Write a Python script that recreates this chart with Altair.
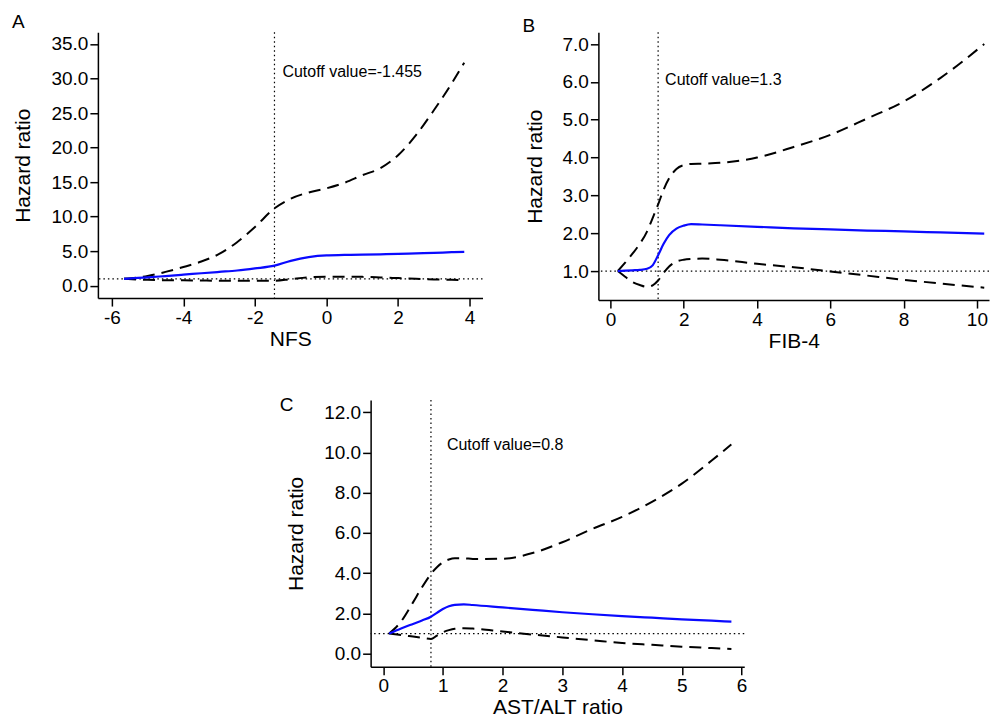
import altair as alt
import pandas as pd

FONT = "Liberation Sans"

# ---- Panel A : NFS ----
nfs_x = [-5.66, -5.0, -4.5, -4.0, -3.5, -3.0, -2.5, -2.0, -1.455, -1.0, -0.5, 0.0, 0.5, 1.0, 1.5, 2.0, 2.5, 3.0, 3.5, 3.85]
nfs_hr = [1.0, 1.2, 1.4, 1.6, 1.8, 2.0, 2.2, 2.5, 2.9, 3.6, 4.15, 4.4, 4.45, 4.5, 4.55, 4.6, 4.68, 4.75, 4.85, 4.9]
nfs_hi = [1.0, 1.4, 2.0, 2.7, 3.5, 4.6, 6.3, 8.5, 11.2, 12.6, 13.5, 14.1, 14.9, 16.0, 17.0, 18.9, 21.8, 25.4, 29.3, 32.3]
nfs_lo = [1.0, 0.85, 0.8, 0.78, 0.75, 0.72, 0.7, 0.7, 0.72, 0.95, 1.2, 1.3, 1.3, 1.28, 1.2, 1.1, 1.0, 0.9, 0.85, 0.8]

# ---- Panel B : FIB-4 ----
fib_x = [0.2, 0.4, 0.6, 0.8, 1.0, 1.15, 1.3, 1.45, 1.6, 1.8, 2.0, 2.2, 2.5, 3.0, 4.0, 5.0, 6.0, 7.0, 8.0, 9.0, 10.2]
fib_hr = [1.0, 1.01, 1.02, 1.03, 1.06, 1.15, 1.42, 1.72, 1.95, 2.12, 2.2, 2.24, 2.23, 2.21, 2.17, 2.13, 2.1, 2.07, 2.05, 2.02, 1.99]
fib_hi = [1.0, 1.22, 1.46, 1.72, 2.05, 2.4, 2.76, 3.15, 3.45, 3.7, 3.8, 3.83, 3.84, 3.86, 4.0, 4.28, 4.6, 5.03, 5.48, 6.1, 7.0]
fib_lo = [1.0, 0.85, 0.71, 0.63, 0.58, 0.62, 0.75, 0.95, 1.12, 1.25, 1.3, 1.32, 1.33, 1.3, 1.19, 1.1, 0.99, 0.88, 0.77, 0.67, 0.56]

# ---- Panel C : AST/ALT ratio ----
aar_x = [0.1, 0.3, 0.5, 0.65, 0.8, 0.9, 1.0, 1.1, 1.2, 1.35, 1.5, 2.0, 2.5, 3.0, 3.5, 4.0, 4.5, 5.0, 5.5, 5.83]
aar_hr = [1.0, 1.25, 1.48, 1.65, 1.84, 2.03, 2.22, 2.36, 2.43, 2.45, 2.42, 2.3, 2.18, 2.06, 1.96, 1.87, 1.79, 1.71, 1.64, 1.59]
aar_hi = [1.0, 1.6, 2.55, 3.3, 3.96, 4.3, 4.54, 4.68, 4.74, 4.74, 4.71, 4.72, 5.0, 5.54, 6.2, 6.8, 7.55, 8.45, 9.6, 10.4]
aar_lo = [1.0, 0.93, 0.85, 0.79, 0.73, 0.9, 1.06, 1.17, 1.24, 1.27, 1.25, 1.1, 0.95, 0.81, 0.67, 0.53, 0.44, 0.35, 0.28, 0.23]

nfs_xticks = [-6, -4, -2, 0, 2, 4]
nfs_yticks = [0, 5, 10, 15, 20, 25, 30, 35]
fib_xticks = [0, 2, 4, 6, 8, 10]
fib_yticks = [1, 2, 3, 4, 5, 6, 7]
aar_xticks = [0, 1, 2, 3, 4, 5, 6]
aar_yticks = [0, 2, 4, 6, 8, 10, 12]


def panel(xs, hr, lo, hi, xdom, ydom, xticks, yticks, xtitle, w, h,
          cutoff, cut_label, cut_dx, cut_y, letter, lx, ly):
    df = pd.DataFrame({"x": xs, "hr": hr, "lo": lo, "hi": hi})
    common = dict(tickSize=8, tickWidth=1.5, tickColor="black",
                  domainColor="black", domainWidth=1.5, grid=False,
                  labelFont=FONT, labelFontSize=19, labelColor="black",
                  titleFont=FONT, titleFontSize=21, titleFontWeight="normal",
                  titleColor="black", labelPadding=2)
    xax = alt.Axis(values=xticks, labelExpr="toString(datum.value)",
                   titlePadding=1, **common)
    yax = alt.Axis(values=yticks, format=".1f", titlePadding=17, **common)
    xs_ = alt.Scale(domain=xdom, nice=False, zero=False)
    ys_ = alt.Scale(domain=ydom, nice=False, zero=False)

    def X(f):
        return alt.X(f, type="quantitative", scale=xs_, axis=xax, title=xtitle)

    def Y(f):
        return alt.Y(f, type="quantitative", scale=ys_, axis=yax, title="Hazard ratio")

    base = alt.Chart(df)
    href = alt.Chart(pd.DataFrame({"r": [1.0]})).mark_rule(
        color="black", strokeWidth=1.2, strokeDash=[1.5, 3]).encode(y=Y("r"))
    vref = alt.Chart(pd.DataFrame({"c": [cutoff]})).mark_rule(
        color="black", strokeWidth=1.2, strokeDash=[1.5, 3]).encode(x=X("c"))
    hi_l = base.mark_line(color="black", strokeWidth=2, strokeDash=[12, 7],
                          interpolate="monotone").encode(x=X("x"), y=Y("hi"))
    lo_l = base.mark_line(color="black", strokeWidth=2, strokeDash=[12, 7],
                          interpolate="monotone").encode(x=X("x"), y=Y("lo"))
    hr_l = base.mark_line(color="#0a0aff", strokeWidth=2.2,
                          interpolate="monotone").encode(x=X("x"), y=Y("hr"))
    ctext = alt.Chart(pd.DataFrame({"c": [cutoff], "t": [cut_label]})).mark_text(
        align="left", baseline="middle", dx=cut_dx, font=FONT, fontSize=16,
        color="black").encode(x=X("c"), y=alt.value(cut_y), text="t:N")
    lt = alt.Chart(pd.DataFrame({"t": [letter]})).mark_text(
        align="left", baseline="top", font=FONT, fontSize=19,
        color="black").encode(x=alt.value(lx), y=alt.value(ly), text="t:N")
    return alt.layer(href, vref, hi_l, lo_l, hr_l, ctext, lt).properties(
        width=w, height=h)


A = panel(nfs_x, nfs_hr, nfs_lo, nfs_hi, [-6.39, 4.36], [-1.79, 36.69],
          nfs_xticks, nfs_yticks, "NFS", 385, 266,
          -1.455, "Cutoff value=-1.455", 8, 40, "A", -86, -19)
B = panel(fib_x, fib_hr, fib_lo, fib_hi, [-0.33, 10.33], [0.233, 7.31],
          fib_xticks, fib_yticks, "FIB-4", 391, 268,
          1.3, "Cutoff value=1.3", 7, 48, "B", -76, -15)
C = panel(aar_x, aar_hr, aar_lo, aar_hi, [-0.21, 6.045], [-0.646, 12.61],
          aar_xticks, aar_yticks, "AST/ALT ratio", 374, 267,
          0.8, "Cutoff value=0.8", 16, 45, "C", -91, -4)

spacer = alt.Chart(pd.DataFrame({"v": [0]})).mark_text(text="").encode(
    x=alt.value(0), y=alt.value(0)).properties(width=1, height=1)

row1 = alt.hconcat(A, B, spacing=116, bounds="flush")
row2 = alt.hconcat(spacer, C, spacing=272, bounds="flush")

chart = alt.vconcat(row1, row2, spacing=43).properties(
    padding={"left": 12, "top": 13, "right": 0, "bottom": 0},
    background="white",
).configure_view(stroke=None)

chart.save("out.html", embed_options={"renderer": "svg", "actions": False})
